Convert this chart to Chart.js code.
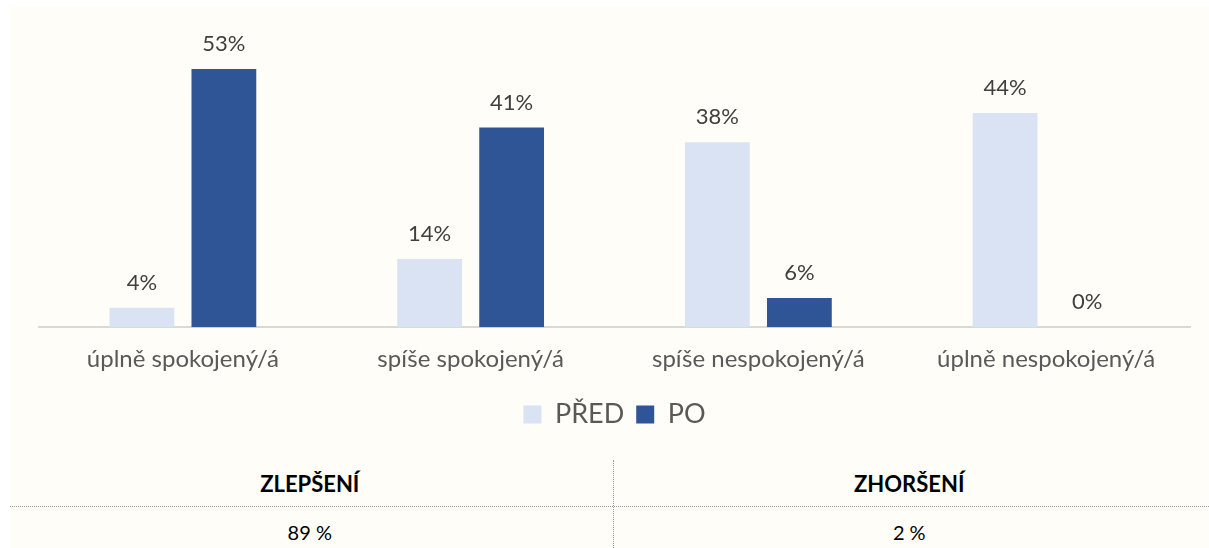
<!DOCTYPE html>
<html>
<head>
<meta charset="utf-8">
<script src="https://cdn.jsdelivr.net/npm/chart.js"></script>
<style>
  body { margin: 0; background: #ffffff; font-family: Lato, "Open Sans", sans-serif; }
  #panel { position: absolute; left: 10px; top: 7px; width: 1199px; height: 541px; background: #fefdf8; }
  #chartBox { position: relative; width: 1199px; height: 433px; }
  #tbl { position: absolute; left: 0; top: 453px; width: 1199px; height: 88px; }
  .cell { position: absolute; width: 50%; text-align: center; color: #000; line-height: 24px; }
  .hdr { font-weight: bold; font-size: 22px; top: 12px; }
  .val { font-size: 20px; top: 60px; }
  #hline { position: absolute; left: 0; top: 46px; width: 1199px; border-top: 1px dotted #9a9a9a; }
  #vline { position: absolute; left: 603px; top: 0; height: 88px; border-left: 1px dotted #9a9a9a; }
</style>
</head>
<body>
<div id="panel">
  <div id="chartBox"><canvas id="chart"></canvas></div>
  <div id="tbl">
    <div id="hline"></div>
    <div id="vline"></div>
    <div class="cell hdr" id="h1" style="left:0"></div>
    <div class="cell hdr" id="h2" style="left:50%"></div>
    <div class="cell val" id="v1" style="left:0"></div>
    <div class="cell val" id="v2" style="left:50%"></div>
  </div>
</div>
<script>
// chart data
const categories = ['úplně spokojený/á', 'spíše spokojený/á', 'spíše nespokojený/á', 'úplně nespokojený/á'];
const seriesNames = ['PŘED', 'PO'];
const predValues = [4, 14, 38, 44];
const poValues = [53, 41, 6, 0];

// summary table
const tableHeaders = ['ZLEPŠENÍ', 'ZHORŠENÍ'];
const tableValues = ['89 %', '2 %'];

document.getElementById('h1').textContent = tableHeaders[0];
document.getElementById('h2').textContent = tableHeaders[1];
document.getElementById('v1').textContent = tableValues[0];
document.getElementById('v2').textContent = tableValues[1];

const FONT = 'Lato, "Open Sans", sans-serif';

// draws value labels above each bar
const barLabels = {
    id: 'barLabels',
    afterDatasetsDraw(chart) {
        const ctx = chart.ctx;
        ctx.save();
        ctx.font = '22px ' + FONT;
        ctx.fillStyle = '#404040';
        ctx.textAlign = 'center';
        ctx.textBaseline = 'middle';
        chart.data.datasets.forEach((ds, i) => {
            chart.getDatasetMeta(i).data.forEach((bar, j) => {
                ctx.fillText(ds.data[j] + '%', bar.x, bar.y - 25);
            });
        });
        ctx.restore();
    }
};

new Chart(document.getElementById('chart'), {
    type: 'bar',
    data: {
        labels: categories,
        datasets: [
            { label: seriesNames[0], data: predValues, backgroundColor: '#dae3f3', categoryPercentage: 0.57, barPercentage: 0.79 },
            { label: seriesNames[1], data: poValues, backgroundColor: '#2f5597', categoryPercentage: 0.57, barPercentage: 0.79 }
        ]
    },
    options: {
        responsive: true,
        maintainAspectRatio: false,
        animation: false,
        layout: { padding: { left: 29, right: 19, top: 28, bottom: 2 } },
        scales: {
            x: {
                grid: { display: false, drawTicks: false },
                border: { color: '#d9d9d9', width: 2 },
                ticks: { color: '#595959', font: { family: FONT, size: 24 }, padding: 18 },
                afterFit(scale) { scale.height -= 3; }
            },
            y: {
                display: false,
                min: 0,
                max: 60
            }
        },
        plugins: {
            legend: {
                position: 'bottom',
                labels: { color: '#595959', font: { family: FONT, size: 27 }, boxWidth: 18, boxHeight: 18, padding: 12 }
            },
            tooltip: { enabled: false }
        }
    },
    plugins: [barLabels]
});
</script>
</body>
</html>
